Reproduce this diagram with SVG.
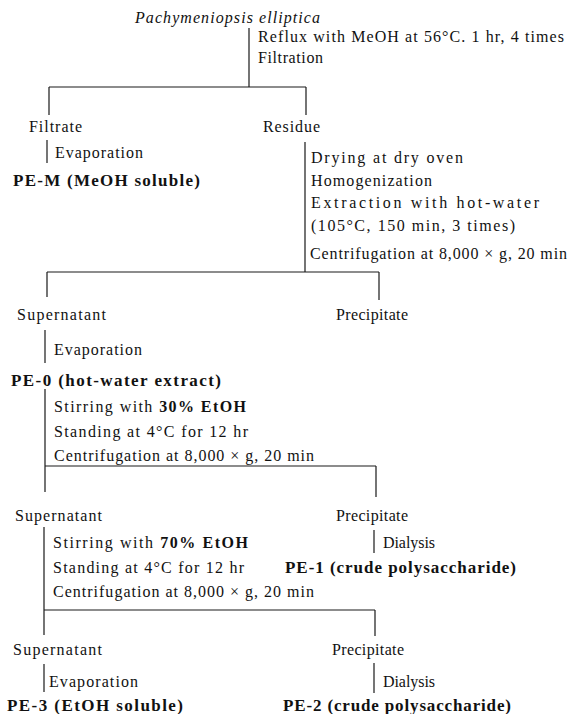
<svg xmlns="http://www.w3.org/2000/svg" width="572" height="714" viewBox="0 0 572 714">
<style>
text{font-family:"Liberation Serif","Times New Roman",serif;font-size:16px;fill:#111}
.it{font-style:italic}
.b{font-weight:bold;font-size:17px}
.bs{font-weight:bold}
.ln{stroke:#1a1a1a;stroke-width:1.2;fill:none}
</style>
<rect width="572" height="714" fill="#fff"/>
<g id="connectors" class="ln">
<path d="M249 28V87M49 87H306M49 87V115M306 87V115"/>
<path d="M47 140V163"/>
<path d="M305 142V272M47 272H379M47 272V297M379 272V300"/>
<path d="M45 330V363"/>
<path d="M45 389V492M45 466H376M376 466V497"/>
<path d="M44 527V635M44 610H375M375 610V636"/>
<path d="M374 530V553"/>
<path d="M44 664V692"/>
<path d="M374 663V693"/>
</g>
<g id="n-source"><text class="it" x="135" y="23" textLength="185" lengthAdjust="spacing">Pachymeniopsis elliptica</text></g>
<g id="step-methanol">
<text x="258" y="42" textLength="306" lengthAdjust="spacing">Reflux with MeOH at 56°C. 1 hr, 4 times</text>
<text x="258" y="63" textLength="65" lengthAdjust="spacing">Filtration</text>
</g>
<g id="n-filtrate"><text x="29" y="132" textLength="53" lengthAdjust="spacing">Filtrate</text></g>
<g id="n-residue"><text x="263" y="132" textLength="57" lengthAdjust="spacing">Residue</text></g>
<g id="step-evap1"><text x="55" y="158" textLength="88" lengthAdjust="spacing">Evaporation</text></g>
<g id="n-pem"><text class="b" x="13" y="186" textLength="187" lengthAdjust="spacing">PE-M (MeOH soluble)</text></g>
<g id="step-hotwater">
<text x="311" y="163" textLength="152" lengthAdjust="spacing">Drying at dry oven</text>
<text x="311" y="186" textLength="121" lengthAdjust="spacing">Homogenization</text>
<text x="311" y="208" textLength="228" lengthAdjust="spacing">Extraction with hot-water</text>
<text x="311" y="231" textLength="204" lengthAdjust="spacing">(105°C, 150 min, 3 times)</text>
<text x="310" y="259" textLength="257" lengthAdjust="spacing">Centrifugation at 8,000 × g, 20 min</text>
</g>
<g id="n-supernatant1"><text x="17" y="320" textLength="89" lengthAdjust="spacing">Supernatant</text></g>
<g id="n-precipitate1"><text x="336" y="320" textLength="72" lengthAdjust="spacing">Precipitate</text></g>
<g id="step-evap2"><text x="54" y="355" textLength="88" lengthAdjust="spacing">Evaporation</text></g>
<g id="n-pe0"><text class="b" x="11" y="386" textLength="210" lengthAdjust="spacing">PE-0 (hot-water extract)</text></g>
<g id="step-etoh30">
<text x="54" y="412" textLength="192" lengthAdjust="spacing">Stirring with <tspan class="bs">30% EtOH</tspan></text>
<text x="54" y="437" textLength="194" lengthAdjust="spacing">Standing at 4°C for 12 hr</text>
<text x="54" y="461" textLength="260" lengthAdjust="spacing">Centrifugation at 8,000 × g, 20 min</text>
</g>
<g id="n-supernatant2"><text x="15" y="521" textLength="87" lengthAdjust="spacing">Supernatant</text></g>
<g id="n-precipitate2"><text x="336" y="521" textLength="72" lengthAdjust="spacing">Precipitate</text></g>
<g id="step-dialysis1"><text x="383" y="548" textLength="52" lengthAdjust="spacing">Dialysis</text></g>
<g id="n-pe1"><text class="b" x="285" y="573" textLength="231" lengthAdjust="spacing">PE-1 (crude polysaccharide)</text></g>
<g id="step-etoh70">
<text x="53" y="548" textLength="195" lengthAdjust="spacing">Stirring with <tspan class="bs">70% EtOH</tspan></text>
<text x="53" y="573" textLength="191" lengthAdjust="spacing">Standing at 4°C for 12 hr</text>
<text x="53" y="597" textLength="261" lengthAdjust="spacing">Centrifugation at 8,000 × g, 20 min</text>
</g>
<g id="n-supernatant3"><text x="13" y="655" textLength="89" lengthAdjust="spacing">Supernatant</text></g>
<g id="n-precipitate3"><text x="332" y="655" textLength="72" lengthAdjust="spacing">Precipitate</text></g>
<g id="step-evap3"><text x="49" y="687" textLength="89" lengthAdjust="spacing">Evaporation</text></g>
<g id="step-dialysis2"><text x="383" y="687" textLength="52" lengthAdjust="spacing">Dialysis</text></g>
<g id="n-pe3"><text class="b" x="7" y="711" textLength="176" lengthAdjust="spacing">PE-3 (EtOH soluble)</text></g>
<g id="n-pe2"><text class="b" x="283" y="711" textLength="228" lengthAdjust="spacing">PE-2 (crude polysaccharide)</text></g>
</svg>
